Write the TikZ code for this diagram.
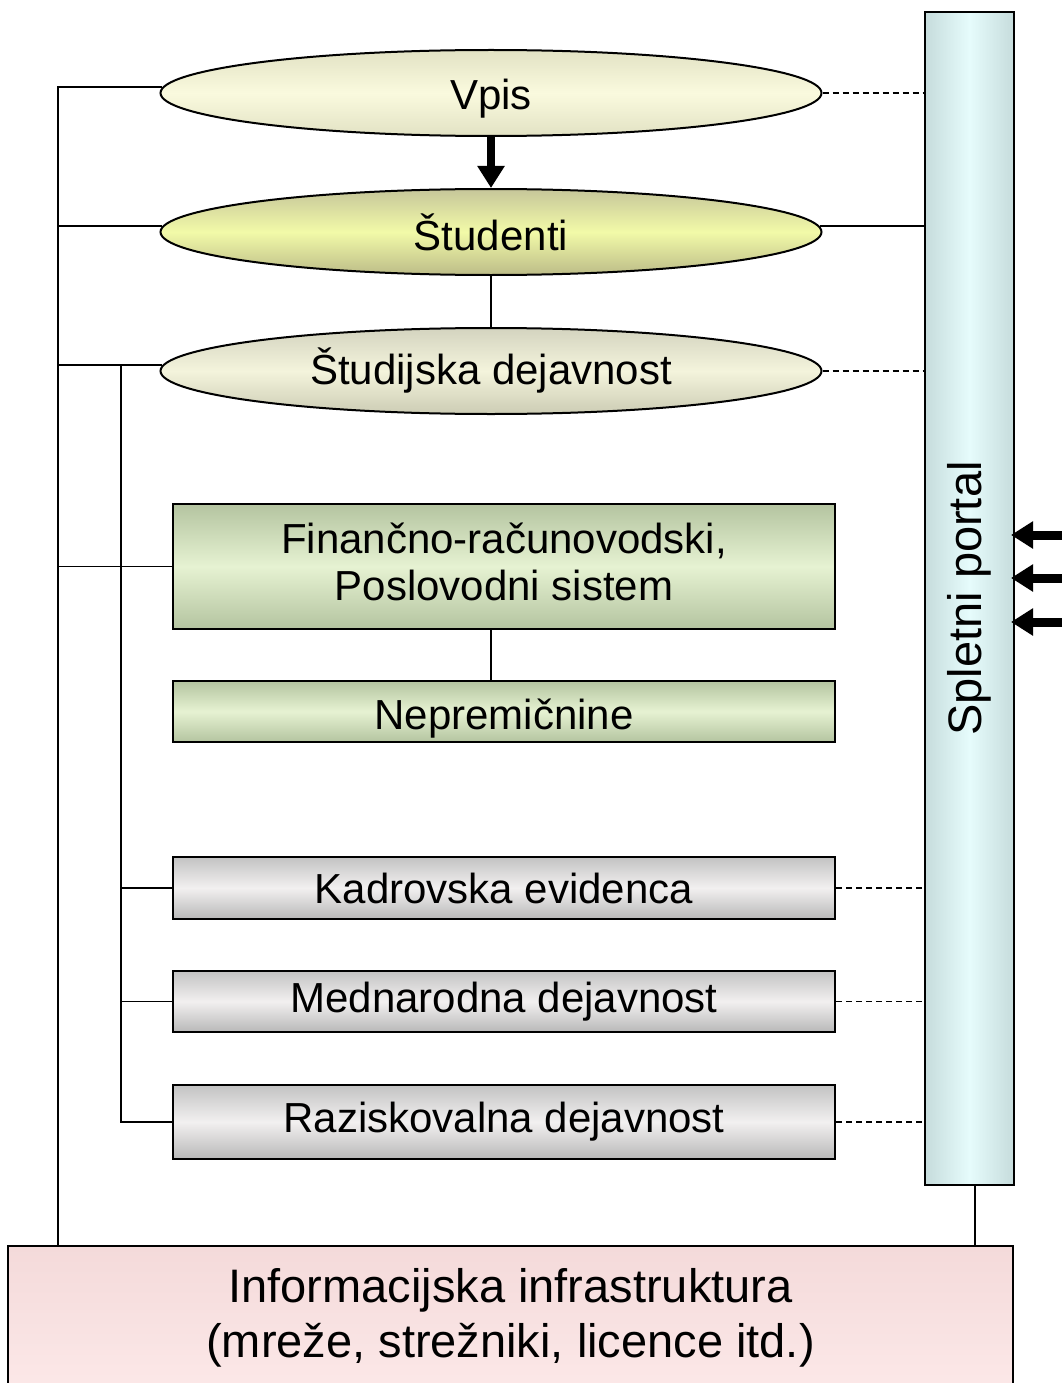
\documentclass[tikz,border=0pt]{standalone}
\usepackage{fontspec}
\setmainfont{Liberation Sans}
\usetikzlibrary{arrows.meta,shapes.geometric}
\definecolor{vpisE}{HTML}{E2E2C4}
\definecolor{vpisM}{HTML}{FAFADE}
\definecolor{studE}{HTML}{BCBC88}
\definecolor{studM}{HTML}{F2FAA8}
\definecolor{sdE}{HTML}{CCCCB4}
\definecolor{sdM}{HTML}{F4F4DC}
\definecolor{grnE}{HTML}{B4C4A0}
\definecolor{grnM}{HTML}{E6F2D2}
\definecolor{gryE}{HTML}{B8B8B8}
\definecolor{gryM}{HTML}{F2F0F0}
\definecolor{pinkE}{HTML}{F4DADA}
\definecolor{pinkM}{HTML}{FCE8E8}
\definecolor{portE}{HTML}{C6DCDC}
\definecolor{portM}{HTML}{E6FCFC}
\tikzset{
  x=1pt, y=-1pt,
  txt/.style={font=\fontsize{42}{48}\selectfont},
  oval/.style={ellipse, draw=black, line width=2pt, minimum width=661pt, minimum height=86pt, inner sep=0pt, txt},
  box/.style={rectangle, draw=black, line width=2pt, minimum width=662pt, inner sep=0pt, align=center, txt},
  grnbox/.style={box, top color=grnE, bottom color=grnE, middle color=grnM},
  grybox/.style={box, top color=gryE!85, bottom color=gryE, middle color=gryM},
  conn/.style={line width=1.8pt},
  dconn/.style={line width=1.6pt, dash pattern=on 6pt off 4pt},
  bigarrow/.style={line width=8pt, -{Triangle[width=26pt,length=22pt]}},
}
\begin{document}
\begin{tikzpicture}
\useasboundingbox (0,0) rectangle (1061,1383);
% portal
\node[rectangle, rotate=90, draw=black, line width=2pt, minimum width=1173pt, minimum height=89pt, inner sep=0pt,
  left color=portE, right color=portE, middle color=portM,
  font=\fontsize{47}{55}\selectfont] (portal) at (969.5,598.5) {Spletni portal};
% ovals
\node[oval, top color=vpisE, bottom color=vpisE, middle color=vpisM, text height=42pt] (vpis) at (491,93) {Vpis};
\node[oval, top color=studE!85, bottom color=studE, middle color=studM] (stud) at (491,232) {Študenti};
\node[oval, top color=sdE!85, bottom color=sdE, middle color=sdM] (studij) at (491,371) {Študijska dejavnost};
% boxes
\node[grnbox, minimum height=125pt] (fin) at (504,566.5) {Finančno-računovodski,\\[-1pt]Poslovodni sistem\\[-38pt]\mbox{}};
\node[grnbox, minimum height=61pt, text height=44pt] (nep) at (504,711.5) {Nepremičnine};
\node[grybox, minimum height=62pt] (kad) at (504,888) {Kadrovska evidenca};
\node[grybox, minimum height=61pt] (med) at (504,1001.5) {Mednarodna dejavnost};
\node[grybox, minimum height=74pt] (raz) at (504,1122) {Raziskovalna dejavnost};
% infrastructure
\node[rectangle, draw=black, line width=2pt, minimum width=1005pt, minimum height=144pt, inner sep=0pt, align=center,
  top color=pinkE, bottom color=pinkM, font=\fontsize{47}{55}\selectfont] (infra) at (510.5,1318)
  {Informacijska infrastruktura\\(mreže, strežniki, licence itd.)};
% buses
\coordinate (busL) at (58,0);
\coordinate (busR) at (121,0);
\coordinate (midX) at (491,0);
\draw[conn] (vpis.179) -| (busL |- infra.north);
\draw[conn] (stud.179) -- (stud.179 -| busL);
\draw[conn] (studij.179) -- (studij.179 -| busL);
\draw[conn] (fin.west) -- (fin.west -| busL);
\draw[conn] (studij.179 -| busR) |- (raz.west);
\draw[conn] (kad.west) -- (kad.west -| busR);
\draw[conn] (med.west) -- (med.west -| busR);
% vertical links
\draw[bigarrow] (vpis.south) -- (stud.north);
\draw[conn] (stud.south) -- (studij.north);
\draw[conn] (fin.south -| midX) -- (nep.north -| midX);
% right links
\draw[dconn] (vpis.east) -- (vpis.east -| portal.north);
\draw[conn] (stud.1) -- (stud.1 -| portal.north);
\draw[dconn] (studij.east) -- (studij.east -| portal.north);
\draw[dconn] (kad.east) -- (kad.east -| portal.north);
\draw[dconn] (med.east) -- (med.east -| portal.north);
\draw[dconn] (raz.east) -- (raz.east -| portal.north);
\coordinate (pb) at (975,1185);
\draw[conn] (pb) -- (pb |- infra.north);
% incoming arrows
\coordinate (a1) at (1070,535);
\coordinate (a2) at (1070,578);
\coordinate (a3) at (1070,622);
\draw[bigarrow, line width=9pt] (a1) -- ([xshift=-4pt]a1 -| portal.south);
\draw[bigarrow, line width=9pt] (a2) -- ([xshift=-4pt]a2 -| portal.south);
\draw[bigarrow, line width=9pt] (a3) -- ([xshift=-4pt]a3 -| portal.south);
\end{tikzpicture}
\end{document}
